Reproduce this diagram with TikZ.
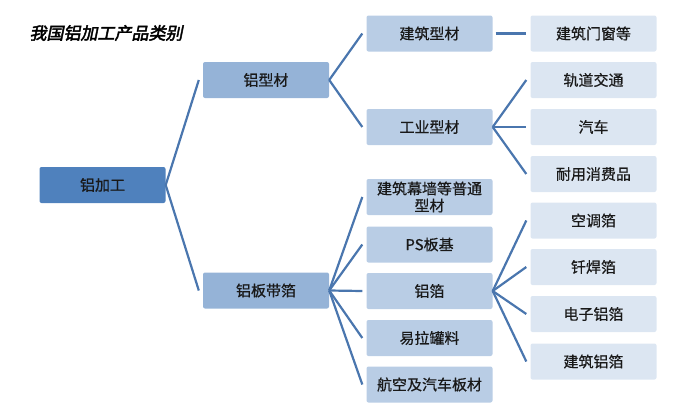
\documentclass[tikz,border=0pt]{standalone}
\usepackage{xcolor}
\usepackage{fontspec}
\usepackage{tikz}
\usetikzlibrary{arrows.meta, positioning}
\setmainfont{Noto Sans CJK SC}
\newfontfamily\boxfont[FakeBold=0.6]{Noto Sans CJK SC}
\newfontfamily\titlefont[FakeSlant=0.2,FakeBold=2.5]{Noto Sans CJK SC}
\definecolor{rootblue}{HTML}{4F81BD}
\definecolor{midblue}{HTML}{95B3D7}
\definecolor{paleblue}{HTML}{B9CDE5}
\definecolor{faintblue}{HTML}{DCE6F2}
\definecolor{linkblue}{HTML}{4A76AE}

\begin{document}
\begin{tikzpicture}[x=1pt,y=-1pt,
  box/.style={rounded corners=2pt, minimum width=126pt, minimum height=36pt, inner sep=0pt,
    align=center, font=\boxfont\fontsize{15}{18}\selectfont, text=black!90},
  rootbox/.style={box, fill=rootblue},
  lvla/.style={box, fill=midblue},
  lvlb/.style={box, fill=paleblue},
  lvlc/.style={box, fill=faintblue},
  link/.style={draw=linkblue, line width=2.2pt}]
\useasboundingbox (0,0) rectangle (677,418);
\node[font=\titlefont\fontsize{17}{19}\selectfont] (title) at (106,33) {我国铝加工产品类别};
\node[rootbox] (alu) at (102.5,185) {铝加工};
\node[lvla] (profile) at (266,80) {铝型材};
\node[lvla] (sheet) at (266,290.5) {铝板带箔};
\node[lvlb] (bldprof) at (429.5,33.5) {建筑型材};
\node[lvlb] (indprof) at (429.5,127) {工业型材};
\node[lvlb] (curtain) at (429.5,197) {建筑幕墙等普通\\[-1pt]型材};
\node[lvlb] (psbase) at (429.5,244.5) {PS板基};
\node[lvlb] (foil) at (429.5,291) {铝箔};
\node[lvlb] (canstock) at (429.5,338) {易拉罐料};
\node[lvlb] (aero) at (429.5,384.5) {航空及汽车板材};
\node[lvlc] (doorwin) at (593.5,33.5) {建筑门窗等};
\node[lvlc] (rail) at (593.5,80) {轨道交通};
\node[lvlc] (auto) at (593.5,127) {汽车};
\node[lvlc] (durable) at (593.5,174) {耐用消费品};
\node[lvlc] (aircon) at (593.5,220.5) {空调箔};
\node[lvlc] (brazing) at (593.5,267) {钎焊箔};
\node[lvlc] (elecfoil) at (593.5,314) {电子铝箔};
\node[lvlc] (bldfoil) at (593.5,361.5) {建筑铝箔};
\foreach \kid in {profile, sheet}
  \draw[link] (alu.east) -- ([xshift=-4pt]\kid.west);
\foreach \kid in {bldprof, indprof}
  \draw[link] (profile.east) -- ([xshift=-4pt]\kid.west);
\foreach \kid in {curtain, psbase, foil, canstock, aero}
  \draw[link] (sheet.east) -- ([xshift=-4pt]\kid.west);
\draw[link] ([xshift=3pt]bldprof.east) -- ([xshift=-4pt]doorwin.west);
\foreach \kid in {rail, auto, durable}
  \draw[link] (indprof.east) -- ([xshift=-4pt]\kid.west);
\foreach \kid in {aircon, brazing, elecfoil, bldfoil}
  \draw[link] (foil.east) -- ([xshift=-4pt]\kid.west);
\end{tikzpicture}
\end{document}
